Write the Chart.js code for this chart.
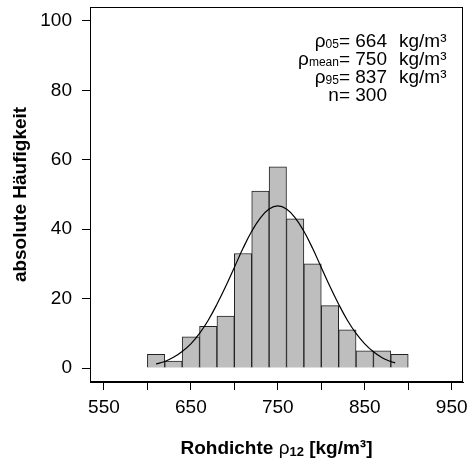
<!DOCTYPE html>
<html>
<head>
<meta charset="utf-8">
<script src="https://cdn.jsdelivr.net/npm/chart.js@4"></script>
<style>
  body { margin: 0; background: #fff; }
</style>
</head>
<body>
<canvas id="histChart" width="468" height="463"></canvas>
<script>
// histogram: bin centres (width 20) and counts
const binCenters = [610, 630, 650, 670, 690, 710, 730, 750, 770, 790, 810, 830, 850, 870, 890];
const binCounts = [4, 2, 9, 12, 15, 33, 51, 58, 43, 30, 18, 11, 5, 5, 4];

// fitted normal curve
const curveX = [610, 620, 630, 640, 650, 660, 670, 680, 690, 700, 710, 720, 730, 740, 750,
                760, 770, 780, 790, 800, 810, 820, 830, 840, 850, 860, 870, 880, 885];
const curveY = [1.2, 1.9, 3.1, 4.8, 7.0, 10.0, 13.8, 18.4, 23.5, 29.0, 34.5, 39.4, 43.3, 45.8, 46.7,
                45.8, 43.3, 39.4, 34.5, 29.0, 23.5, 18.4, 13.8, 10.0, 7.0, 4.7, 3.0, 1.9, 1.5];

const xTicks = [550, 600, 650, 700, 750, 800, 850, 900, 950];
const xLabelled = [550, 650, 750, 850, 950];
const yTicks = [0, 20, 40, 60, 80, 100];

// stats box text
const statSymbols = ["ρ", "ρ", "ρ", "n"];
const statSubs = ["05", "mean", "95", ""];
const statValues = ["= 664", "= 750", "= 837", "= 300"];
const statUnits = ["kg/m³", "kg/m³", "kg/m³", ""];

const xTitle = "Rohdichte ";
const xTitleSym = "ρ";
const xTitleSub = "12";
const xTitleEnd = " [kg/m³]";
const yTitle = "absolute Häufigkeit";

const FONT = "'Liberation Sans', Arial, Helvetica, sans-serif";

const extras = {
    id: 'extras',
    afterDraw(chart) {
        const ctx = chart.ctx;
        const a = chart.chartArea;
        ctx.save();
        // frame
        ctx.strokeStyle = '#000';
        ctx.lineWidth = 1;
        ctx.strokeRect(a.left + 0.5, a.top + 0.5, a.right - a.left - 1, a.bottom - a.top - 1);

        ctx.fillStyle = '#000';
        ctx.textBaseline = 'alphabetic';

        // stats text
        const numRight = 387, unitLeft = 399;
        for (let i = 0; i < statSymbols.length; i++) {
            const base = 46.5 + i * 18.3;
            ctx.font = "19px " + FONT;
            const w1 = ctx.measureText(statSymbols[i]).width;
            const w3 = ctx.measureText(statValues[i]).width;
            ctx.font = "12px " + FONT;
            const w2 = ctx.measureText(statSubs[i]).width;
            let x = numRight - (w1 + w2 + w3);
            ctx.textAlign = 'left';
            ctx.font = "19px " + FONT;
            ctx.fillText(statSymbols[i], x, base);
            x += w1;
            ctx.font = "12px " + FONT;
            ctx.fillText(statSubs[i], x, base + 1);
            x += w2;
            ctx.font = "19px " + FONT;
            ctx.fillText(statValues[i], x, base);
            ctx.fillText(statUnits[i], unitLeft, base);
        }

        // x title
        ctx.font = "bold 19px " + FONT;
        const t1 = ctx.measureText(xTitle).width;
        ctx.font = "19px " + FONT;
        const t2 = ctx.measureText(xTitleSym).width;
        ctx.font = "bold 13px " + FONT;
        const t3 = ctx.measureText(xTitleSub).width;
        ctx.font = "bold 19px " + FONT;
        const t4 = ctx.measureText(xTitleEnd).width;
        let tx = (a.left + a.right) / 2 - (t1 + t2 + t3 + t4) / 2;
        const tb = 453.5;
        ctx.textAlign = 'left';
        ctx.font = "bold 19px " + FONT;
        ctx.fillText(xTitle, tx, tb); tx += t1;
        ctx.font = "19px " + FONT;
        ctx.fillText(xTitleSym, tx, tb); tx += t2;
        ctx.font = "bold 13px " + FONT;
        ctx.fillText(xTitleSub, tx, tb + 2); tx += t3;
        ctx.font = "bold 19px " + FONT;
        ctx.fillText(xTitleEnd, tx, tb);

        // y title
        ctx.translate(26, (a.top + a.bottom) / 2);
        ctx.rotate(-Math.PI / 2);
        ctx.textAlign = 'center';
        ctx.font = "bold 19px " + FONT;
        ctx.fillText(yTitle, 0, 0);
        ctx.restore();
    }
};

const ctx = document.getElementById("histChart").getContext("2d");

new Chart(ctx, {
    type: 'bar',
    data: {
        datasets: [{
            type: 'line',
            data: curveX.map((x, i) => ({ x: x, y: curveY[i] })),
            borderColor: '#000',
            borderWidth: 1.2,
            pointRadius: 0,
            tension: 0.4,
            fill: false,
            order: 0
        }, {
            type: 'bar',
            data: binCenters.map((x, i) => ({ x: x, y: binCounts[i] })),
            backgroundColor: '#BEBEBE',
            borderColor: '#222',
            borderWidth: 1,
            categoryPercentage: 1.0,
            barPercentage: 1.0,
            order: 1
        }]
    },
    options: {
        responsive: false,
        animation: false,
        layout: { padding: { left: 0, top: 7, right: 5, bottom: 0 } },
        plugins: { legend: { display: false }, tooltip: { enabled: false } },
        scales: {
            x: {
                type: 'linear',
                offset: false,
                min: 534,
                max: 963,
                afterBuildTicks: (axis) => { axis.ticks = xTicks.map(v => ({ value: v })); },
                afterFit: (axis) => { axis.height = 81; axis.paddingLeft = 0; axis.paddingRight = 0; },
                grid: { offset: false, drawOnChartArea: false, drawTicks: true, tickLength: 8, color: '#000', tickColor: '#000' },
                border: { display: true, color: '#000' },
                ticks: {
                    autoSkip: false,
                    maxRotation: 0,
                    padding: 6,
                    color: '#000',
                    font: { family: FONT, size: 19 },
                    callback: (v) => xLabelled.includes(v) ? String(v) : ''
                }
            },
            y: {
                min: -4,
                max: 104,
                afterBuildTicks: (axis) => { axis.ticks = yTicks.map(v => ({ value: v })); },
                afterFit: (axis) => { axis.width = 90; axis.paddingTop = 0; axis.paddingBottom = 0; },
                grid: { drawOnChartArea: false, drawTicks: true, tickLength: 8, color: '#000', tickColor: '#000' },
                border: { display: true, color: '#000' },
                ticks: {
                    padding: 10,
                    color: '#000',
                    font: { family: FONT, size: 19 }
                }
            }
        }
    },
    plugins: [extras]
});
</script>
</body>
</html>
